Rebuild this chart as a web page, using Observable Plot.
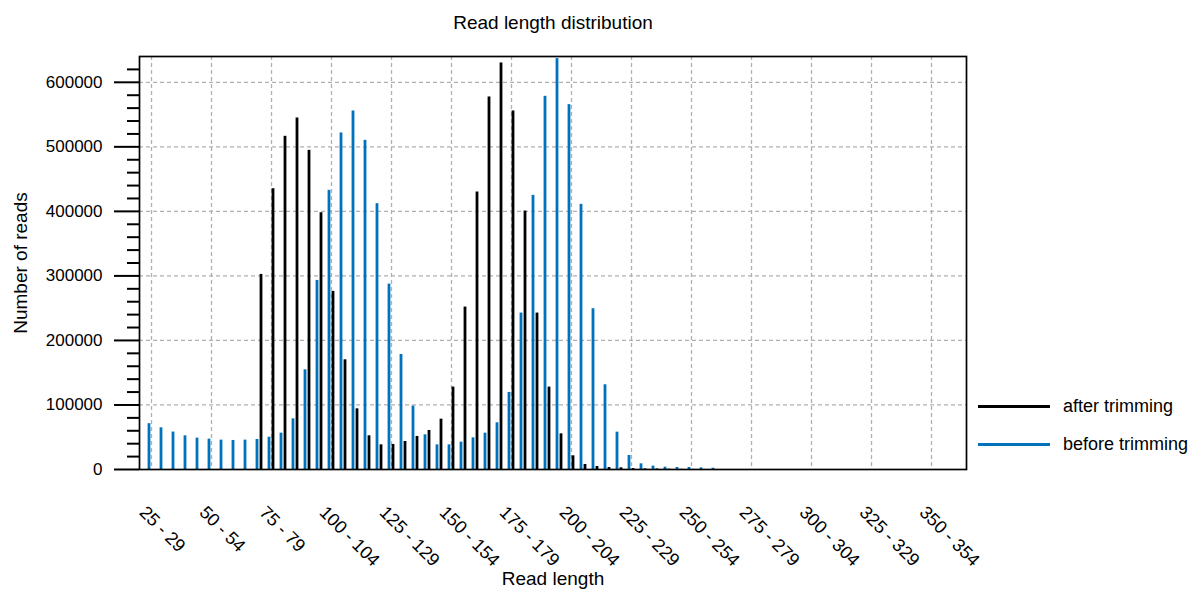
<!DOCTYPE html>
<html>
<head>
<meta charset="utf-8">
<script src="https://cdn.jsdelivr.net/npm/d3@7"></script>
<script src="https://cdn.jsdelivr.net/npm/@observablehq/plot@0.6"></script>
<style>
  html, body { margin: 0; padding: 0; background: #fff; }
  #wrap { position: relative; width: 1198px; height: 590px; font-family: "Liberation Sans", Arial, sans-serif; }
  #legend { position: absolute; left: 978px; top: 394px; font-size: 18px; color: #000; }
  .item { position: relative; height: 38px; width: 220px; }
  .item .ln { position: absolute; left: 0; top: 11px; width: 72px; height: 2.5px; }
  .item .tx { position: absolute; left: 85px; top: 0px; line-height: 24px; white-space: nowrap; }
</style>
</head>
<body>
<div id="wrap"></div>
<script>
// Categories: read-length bins (width 5)
const bins = [
  "25 - 29","30 - 34","35 - 39","40 - 44","45 - 49","50 - 54","55 - 59","60 - 64","65 - 69","70 - 74",
  "75 - 79","80 - 84","85 - 89","90 - 94","95 - 99","100 - 104","105 - 109","110 - 114","115 - 119","120 - 124",
  "125 - 129","130 - 134","135 - 139","140 - 144","145 - 149","150 - 154","155 - 159","160 - 164","165 - 169","170 - 174",
  "175 - 179","180 - 184","185 - 189","190 - 194","195 - 199","200 - 204","205 - 209","210 - 214","215 - 219","220 - 224",
  "225 - 229","230 - 234","235 - 239","240 - 244","245 - 249","250 - 254","255 - 259","260 - 264","265 - 269","270 - 274",
  "275 - 279","280 - 284","285 - 289","290 - 294","295 - 299","300 - 304","305 - 309","310 - 314","315 - 319","320 - 324",
  "325 - 329","330 - 334","335 - 339","340 - 344","345 - 349","350 - 354","355 - 359","360 - 364"
];

// Series: before trimming (blue)
const beforeTrimming = [
  71000, 64600, 58000, 52200, 48600, 47000, 45500, 45000, 45500, 46500,
  50000, 56300, 78500, 154500, 293000, 432600, 521500, 555600, 510100, 411900,
  287300, 178300, 98200, 53700, 38200, 38200, 42400, 49100, 56300, 72400,
  119400, 242400, 424800, 578300, 636700, 565400, 410900, 249100, 131300, 57900,
  21700, 8800, 5200, 3600, 3100, 3100, 2500, 2000, 0, 0,
  0, 0, 0, 0, 0, 0, 0, 0, 0, 0,
  0, 0, 0, 0, 0, 0, 0, 0
];

// Series: after trimming (black)
const afterTrimming = [
  0, 0, 0, 0, 0, 0, 0, 0, 0, 302300,
  435100, 516300, 544700, 494600, 397900, 276000, 170000, 94000, 52200, 38200,
  38800, 43400, 51200, 60500, 78000, 127700, 251700, 430000, 577300, 630000,
  555600, 400500, 242400, 127700, 55300, 21200, 7800, 4700, 3100, 2600,
  1500, 1000, 800, 500, 300, 200, 0, 0, 0, 0,
  0, 0, 0, 0, 0, 0, 0, 0, 0, 0,
  0, 0, 0, 0, 0, 0, 0, 0
];

// Tick labels
const xTickLabels = ["25 - 29","50 - 54","75 - 79","100 - 104","125 - 129","150 - 154","175 - 179",
  "200 - 204","225 - 229","250 - 254","275 - 279","300 - 304","325 - 329","350 - 354"];
const yMajorTicks = [0, 100000, 200000, 300000, 400000, 500000, 600000];
const yMinorTicks = [20000, 40000, 60000, 80000, 120000, 140000, 160000, 180000, 220000, 240000, 260000, 280000,
  320000, 340000, 360000, 380000, 420000, 440000, 460000, 480000, 520000, 540000, 560000, 580000, 620000];
const yGridTicks = [100000, 200000, 300000, 400000, 500000, 600000];

const seriesNames = ["after trimming", "before trimming"];
const seriesColors = ["#000000", "#0072BD"];

const beforeData = bins.map((b, i) => ({bin: b, value: beforeTrimming[i]}));
const afterData = bins.map((b, i) => ({bin: b, value: afterTrimming[i]}));

const gridStyle = {stroke: "#b0b0b0", strokeOpacity: 1, strokeWidth: 1.3, strokeDasharray: "4,3"};

const chart = Plot.plot({
  width: 1198,
  height: 590,
  marginLeft: 139,
  marginRight: 232,
  marginTop: 56,
  marginBottom: 121,
  style: {fontFamily: "'Liberation Sans', Arial, sans-serif", background: "#fff", color: "#000"},
  x: {type: "band", domain: bins, padding: 0, axis: null},
  y: {domain: [0, 640000], axis: null},
  marks: [
    Plot.gridX(xTickLabels, gridStyle),
    Plot.gridY(yGridTicks, gridStyle),
    Plot.barY(beforeData, {x: "bin", y: "value", fill: seriesColors[1], insetLeft: 4.6, insetRight: 4.6, dx: -2}),
    Plot.barY(afterData, {x: "bin", y: "value", fill: seriesColors[0], insetLeft: 4.6, insetRight: 4.6, dx: 2}),
    Plot.frame({stroke: "#000", strokeWidth: 1.7}),
    Plot.axisY(yMajorTicks, {tickSize: 25, tickPadding: 12, strokeWidth: 2, fontSize: 17, label: null, tickFormat: d3.format("d")}),
    Plot.axisY(yMinorTicks, {tickSize: 12, strokeWidth: 2, text: null, label: null}),
    Plot.text(xTickLabels, {x: d => d, text: d => d, frameAnchor: "bottom", rotate: 45, textAnchor: "start", lineAnchor: "bottom", dx: -13, dy: 44, fontSize: 18}),
    Plot.text(["Read length distribution"], {frameAnchor: "top", textAnchor: "middle", dy: -28, lineAnchor: "bottom", fontSize: 19, letterSpacing: "-0.3px"}),
    Plot.text(["Read length"], {frameAnchor: "bottom", textAnchor: "middle", dy: 115, lineAnchor: "bottom", fontSize: 19, letterSpacing: "-0.7px"}),
    Plot.text(["Number of reads"], {frameAnchor: "left", textAnchor: "middle", dx: -119, rotate: -90, lineAnchor: "middle", fontSize: 19, letterSpacing: "-0.4px"})
  ]
});

const wrap = document.getElementById("wrap");
wrap.appendChild(chart);

const legend = document.createElement("div");
legend.id = "legend";
seriesNames.forEach((name, i) => {
  const item = document.createElement("div");
  item.className = "item";
  const ln = document.createElement("div");
  ln.className = "ln";
  ln.style.background = seriesColors[i];
  const tx = document.createElement("div");
  tx.className = "tx";
  tx.textContent = name;
  item.appendChild(ln);
  item.appendChild(tx);
  legend.appendChild(item);
});
wrap.appendChild(legend);
</script>
</body>
</html>
